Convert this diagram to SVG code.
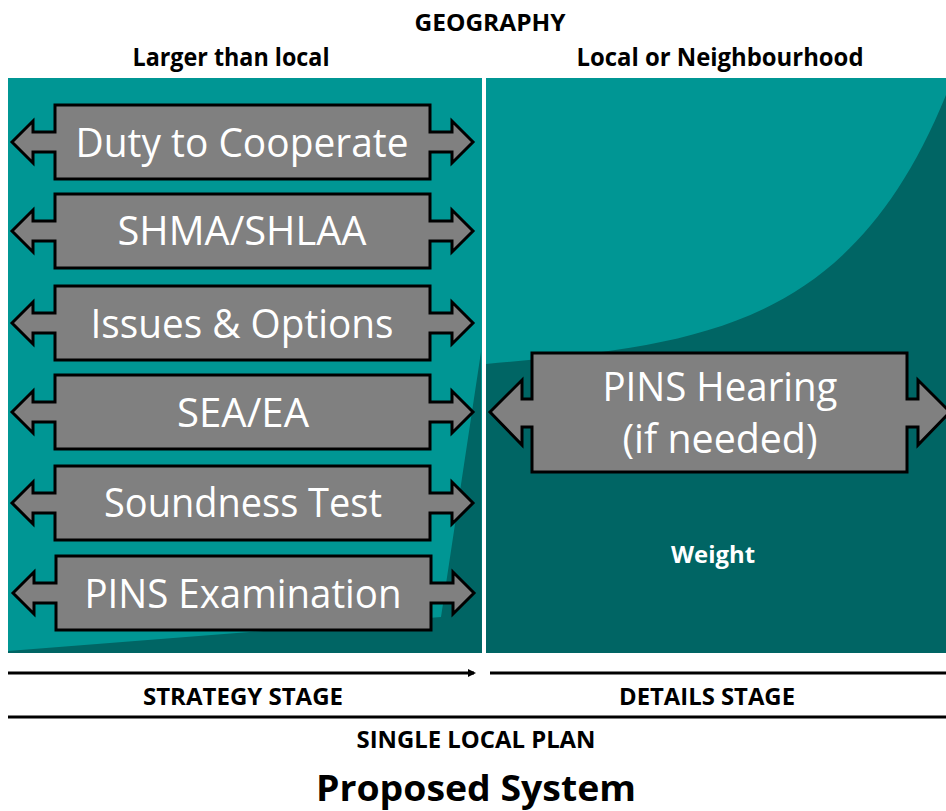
<svg xmlns="http://www.w3.org/2000/svg" width="946" height="811" viewBox="0 0 946 811">
<style>
.hdr{font-family:"Open Sans","Liberation Sans",sans-serif;font-weight:bold;fill:#000;text-anchor:middle}
.box{fill:#808080;stroke:#000;stroke-width:3;stroke-linejoin:miter}
.lbl{font-family:"Open Sans","Liberation Sans",sans-serif;font-size:41px;fill:#fff;text-anchor:middle}
.line{stroke:#000;stroke-width:3;fill:none}
</style>
<defs>
<marker id="ah" markerWidth="8" markerHeight="8" refX="6" refY="4" orient="auto" markerUnits="userSpaceOnUse">
<path d="M0,0 L8,4 L0,8 z" fill="#000"/>
</marker>
<path id="arr" d="M-230,0 L-209,-21 L-209,-10 L-187,-10 L-187,-37 L188,-37 L188,-10 L210,-10 L210,-21 L231,0 L210,21 L210,10 L188,10 L188,37 L-187,37 L-187,10 L-209,10 L-209,21 Z"/>
</defs>
<rect width="946" height="811" fill="#fff"/>
<text class="hdr" x="490" y="31" font-size="24" textLength="151" lengthAdjust="spacingAndGlyphs">GEOGRAPHY</text>
<text class="hdr" x="231" y="66" font-size="25" textLength="197" lengthAdjust="spacingAndGlyphs">Larger than local</text>
<text class="hdr" x="720" y="66" font-size="25" textLength="287" lengthAdjust="spacingAndGlyphs">Local or Neighbourhood</text>
<g id="panel-left">
<rect x="8" y="78" width="474" height="575" fill="#009694"/>
<path d="M481,352 L441,617 L8,651 L8,653 L482,653 Z" fill="#006564"/>
</g>
<g id="panel-right">
<rect x="486" y="78" width="460" height="575" fill="#009694"/>
<path d="M486,364 C700,345 850,330 946,95 L946,653 L486,653 Z" fill="#006564"/>
</g>
<g id="duty"><use href="#arr" class="box" x="242" y="142"/><text class="lbl" x="242" y="157" textLength="333" lengthAdjust="spacingAndGlyphs">Duty to Cooperate</text></g>
<g id="shma"><use href="#arr" class="box" x="242" y="231"/><text class="lbl" x="242" y="245" textLength="249" lengthAdjust="spacingAndGlyphs">SHMA/SHLAA</text></g>
<g id="issues"><use href="#arr" class="box" x="242" y="323"/><text class="lbl" x="242" y="338" textLength="303" lengthAdjust="spacingAndGlyphs">Issues &amp; Options</text></g>
<g id="sea"><use href="#arr" class="box" x="242" y="412"/><text class="lbl" x="243" y="427" textLength="132" lengthAdjust="spacingAndGlyphs">SEA/EA</text></g>
<g id="soundness"><use href="#arr" class="box" x="242" y="503"/><text class="lbl" x="243" y="517" textLength="278" lengthAdjust="spacingAndGlyphs">Soundness Test</text></g>
<g id="pinsexam"><use href="#arr" class="box" x="243" y="593"/><text class="lbl" x="243" y="608" textLength="317" lengthAdjust="spacingAndGlyphs">PINS Examination</text></g>
<g id="pinshearing">
<path class="box" d="M490,412 L522,380 L522,399 L532,399 L532,353 L907,353 L907,399 L918,399 L918,380 L950,412 L918,445 L918,427 L907,427 L907,472 L532,472 L532,427 L522,427 L522,445 Z"/>
<text class="lbl" x="720" y="401" textLength="235" lengthAdjust="spacingAndGlyphs">PINS Hearing</text>
<text class="lbl" x="720" y="453" textLength="195" lengthAdjust="spacingAndGlyphs">(if needed)</text>
</g>
<text x="713" y="563" font-family="Open Sans, Liberation Sans, sans-serif" font-weight="bold" font-size="24" fill="#fff" text-anchor="middle" textLength="84" lengthAdjust="spacingAndGlyphs">Weight</text>
<g id="connectors">
<line class="line" x1="8" y1="673" x2="474" y2="673" marker-end="url(#ah)"/>
<line class="line" x1="490" y1="673" x2="946" y2="673"/>
<line class="line" x1="8" y1="717" x2="946" y2="717"/>
</g>
<text class="hdr" x="243" y="705" font-size="24" textLength="200" lengthAdjust="spacingAndGlyphs">STRATEGY STAGE</text>
<text class="hdr" x="707" y="705" font-size="24" textLength="176" lengthAdjust="spacingAndGlyphs">DETAILS STAGE</text>
<text class="hdr" x="476" y="748" font-size="24" textLength="239" lengthAdjust="spacingAndGlyphs">SINGLE LOCAL PLAN</text>
<text class="hdr" x="476" y="801" font-size="36" textLength="320" lengthAdjust="spacingAndGlyphs">Proposed System</text>
</svg>
